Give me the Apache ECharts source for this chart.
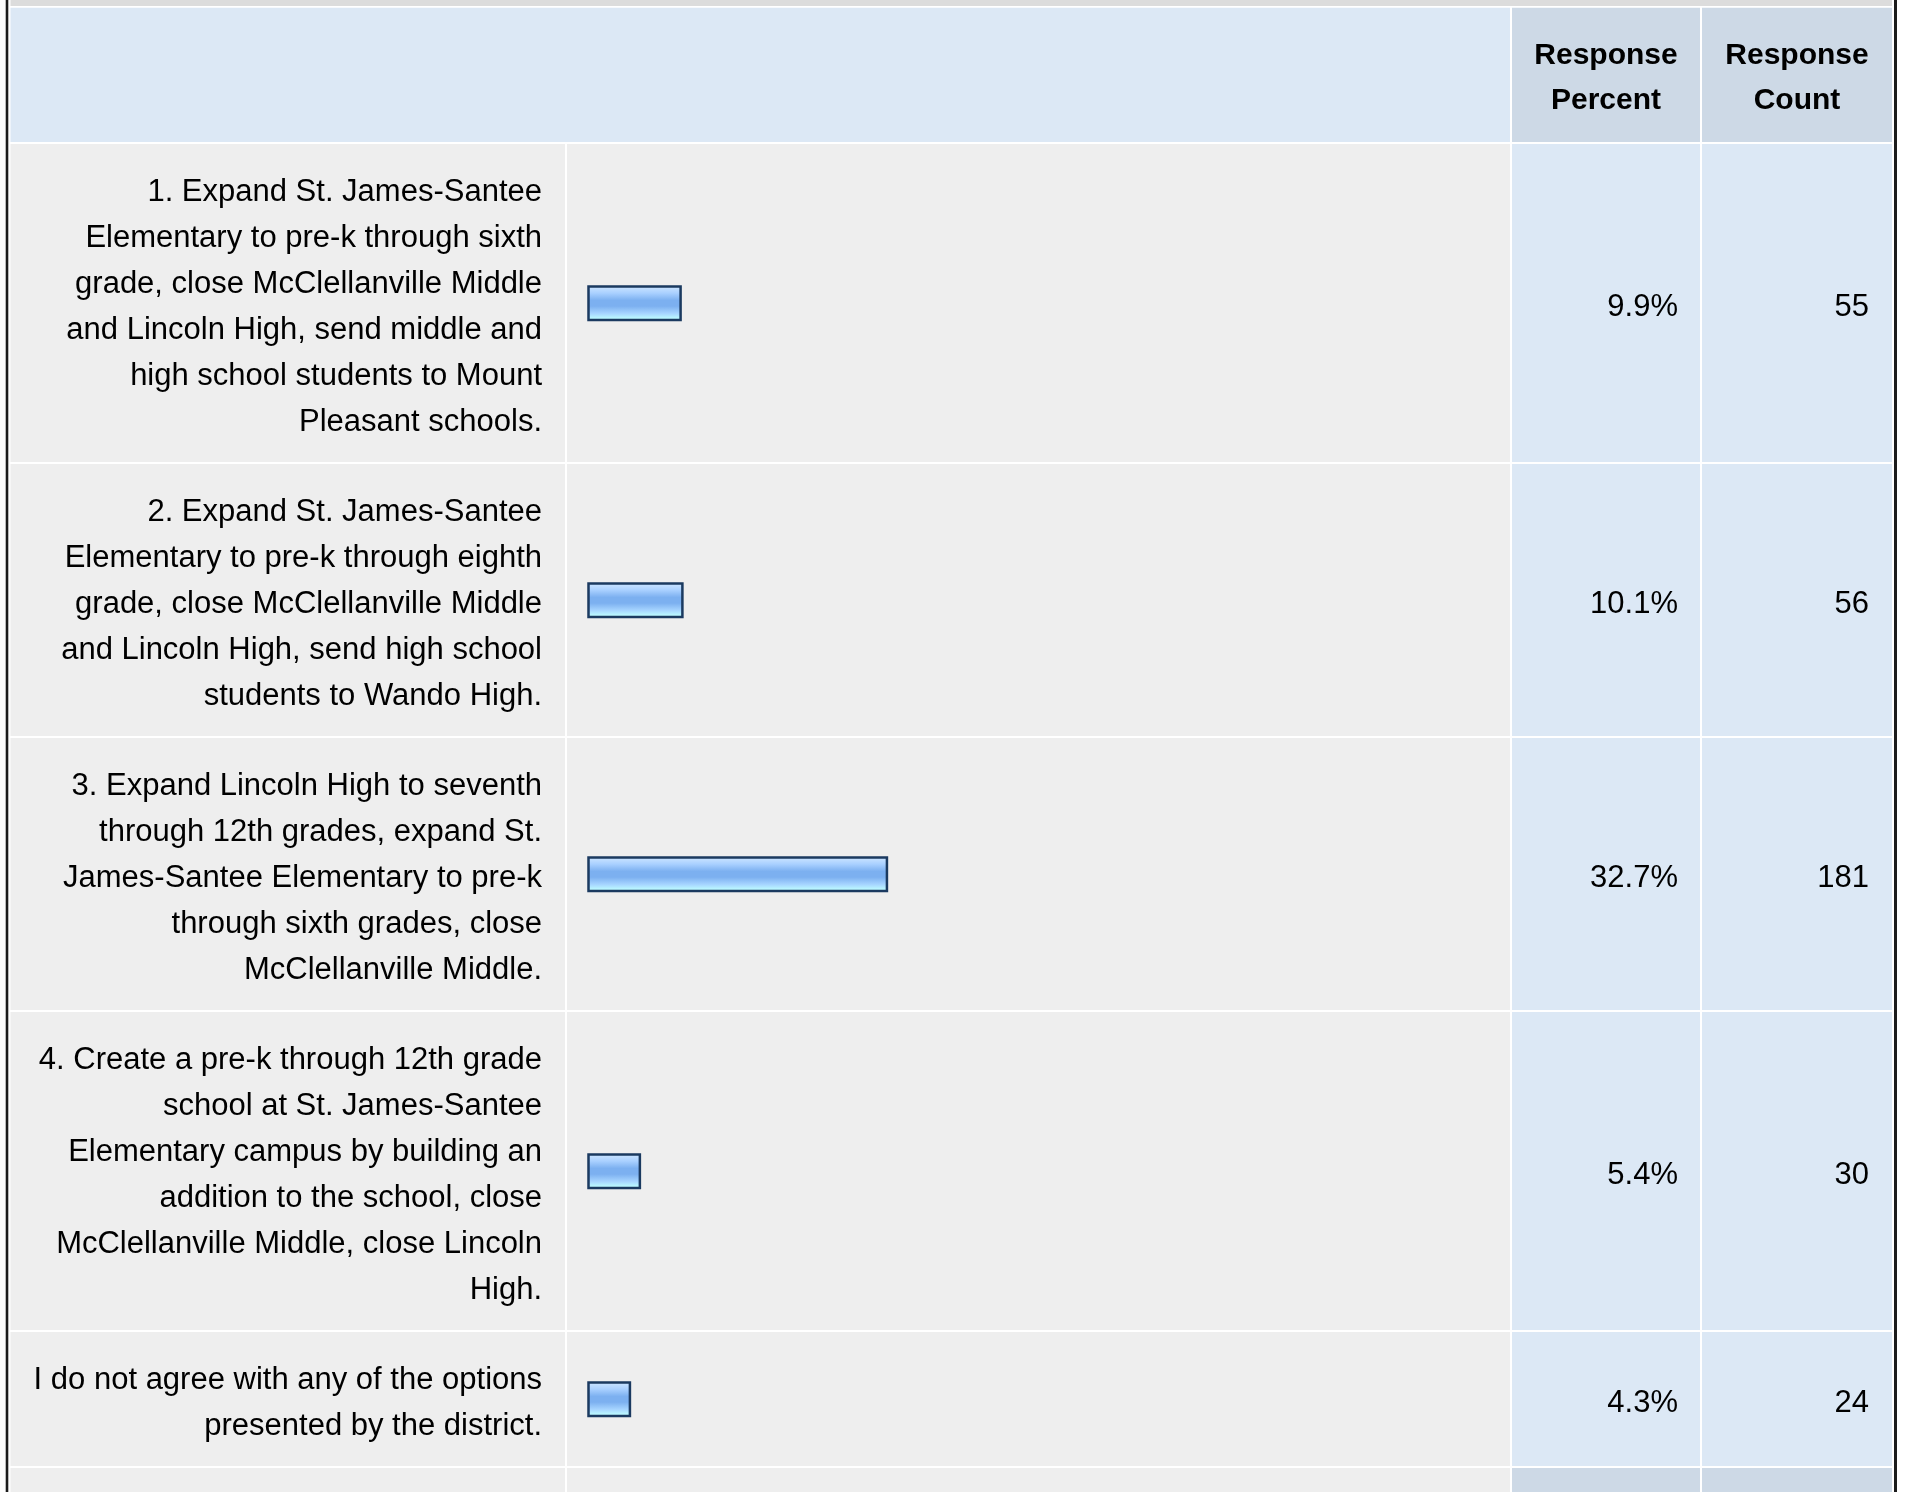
<!DOCTYPE html>
<html>
<head>
<meta charset="utf-8">
<title>Survey responses</title>
<script src="https://cdn.jsdelivr.net/npm/echarts@6/dist/echarts.min.js"></script>
<style>
  html, body { margin: 0; padding: 0; background: #fff; }
  #main { width: 1907px; height: 1492px; }
</style>
</head>
<body>
<div id="main"></div>
<script>
// options (row labels, one text line per entry)
const labels = [
  ['1. Expand St. James-Santee', 'Elementary to pre-k through sixth', 'grade, close McClellanville Middle', 'and Lincoln High, send middle and', 'high school students to Mount', 'Pleasant schools.'],
  ['2. Expand St. James-Santee', 'Elementary to pre-k through eighth', 'grade, close McClellanville Middle', 'and Lincoln High, send high school', 'students to Wando High.'],
  ['3. Expand Lincoln High to seventh', 'through 12th grades, expand St.', 'James-Santee Elementary to pre-k', 'through sixth grades, close', 'McClellanville Middle.'],
  ['4. Create a pre-k through 12th grade', 'school at St. James-Santee', 'Elementary campus by building an', 'addition to the school, close', 'McClellanville Middle, close Lincoln', 'High.'],
  ['I do not agree with any of the options', 'presented by the district.']
]
// response percent and count
const percents = [9.9, 10.1, 32.7, 5.4, 4.3]
const counts = [55, 56, 181, 30, 24]
const headers = ['Response\nPercent', 'Response\nCount']

// table layout
const FONT = 'Liberation Sans'
const LINE_H = 46
const ROW_PAD = 42
const GAP = 2
const HEADER_TOP = 7.7
const HEADER_BOTTOM = 142
const COL_L = 10.5 // label cell left
const COL_B = 567 // bar cell left
const COL_P = 1512 // percent cell left
const COL_C = 1702 // count cell left
const COL_R = 1892 // table right
const GRAY = '#eeeeee'
const BLUE = '#dce8f5'
const BLUE_DARK = '#cdd9e6'

// row tops / bottoms follow the number of text lines
const rows = []
let cursor = HEADER_BOTTOM + GAP
labels.forEach((lines, i) => {
  const h = lines.length * LINE_H + ROW_PAD
  rows.push([percents[i], cursor, cursor + h, counts[i], i])
  cursor += h + GAP
})
const lastTop = cursor

const barFill = new echarts.graphic.LinearGradient(0, 0, 0, 1, [
  { offset: 0, color: '#d2e8ff' },
  { offset: 0.22, color: '#a9d0ff' },
  { offset: 0.42, color: '#7cb0f0' },
  { offset: 0.58, color: '#7cb0f0' },
  { offset: 0.78, color: '#a6d4ff' },
  { offset: 0.9, color: '#b8f4ff' },
  { offset: 1, color: '#c4ffff' }
])

const headerText = {
  fill: '#000', fontFamily: FONT, fontSize: 30, fontWeight: 'bold',
  lineHeight: 45, align: 'center', verticalAlign: 'middle'
}

const myChart = echarts.init(document.getElementById('main'), null, { renderer: 'canvas' })

const option = {
  animation: false,
  backgroundColor: '#ffffff',
  grid: { left: 588.5, width: 905, top: 0, height: 1492 },
  xAxis: { type: 'value', min: 0, max: 100, show: false },
  yAxis: { type: 'value', min: 0, max: 1492, inverse: true, show: false },
  graphic: [
    // frame
    { type: 'rect', shape: { x: 5.7, y: 0, width: 2.6, height: 1492 }, style: { fill: '#1c1c1c' } },
    { type: 'rect', shape: { x: 1894, y: 0, width: 3, height: 1492 }, style: { fill: '#1c1c1c' } },
    { type: 'rect', shape: { x: COL_L, y: 0, width: COL_R - COL_L, height: 6 }, style: { fill: '#dcdcdc' } },
    // header
    { type: 'rect', shape: { x: COL_L, y: HEADER_TOP, width: COL_P - GAP - COL_L, height: HEADER_BOTTOM - HEADER_TOP }, style: { fill: BLUE } },
    { type: 'rect', shape: { x: COL_P, y: HEADER_TOP, width: COL_C - GAP - COL_P, height: HEADER_BOTTOM - HEADER_TOP }, style: { fill: BLUE_DARK } },
    { type: 'rect', shape: { x: COL_C, y: HEADER_TOP, width: COL_R - COL_C, height: HEADER_BOTTOM - HEADER_TOP }, style: { fill: BLUE_DARK } },
    {
      type: 'text', x: (COL_P + COL_C - GAP) / 2, y: (HEADER_TOP + HEADER_BOTTOM) / 2 + 3.5,
      style: Object.assign({ text: headers[0] }, headerText)
    },
    {
      type: 'text', x: (COL_C + COL_R) / 2, y: (HEADER_TOP + HEADER_BOTTOM) / 2 + 3.5,
      style: Object.assign({ text: headers[1] }, headerText)
    },
    // start of the next row, cut off at the bottom
    { type: 'rect', shape: { x: COL_L, y: lastTop, width: COL_B - GAP - COL_L, height: 40 }, style: { fill: GRAY } },
    { type: 'rect', shape: { x: COL_B, y: lastTop, width: COL_P - GAP - COL_B, height: 40 }, style: { fill: GRAY } },
    { type: 'rect', shape: { x: COL_P, y: lastTop, width: COL_C - GAP - COL_P, height: 40 }, style: { fill: BLUE_DARK } },
    { type: 'rect', shape: { x: COL_C, y: lastTop, width: COL_R - COL_C, height: 40 }, style: { fill: BLUE_DARK } }
  ],
  series: [
    {
      type: 'custom',
      clip: false,
      encode: { x: 0, y: [1, 2] },
      data: rows,
      renderItem: function (params, api) {
        const pct = api.value(0)
        const top = api.coord([0, api.value(1)])[1]
        const bottom = api.coord([0, api.value(2)])[1]
        const mid = (top + bottom) / 2
        const idx = api.value(4)
        const x0 = api.coord([0, 0])[0]
        const x1 = api.coord([pct, 0])[0]
        const h = bottom - top
        const textStyle = { fill: '#000', fontFamily: FONT, fontSize: 31, verticalAlign: 'middle', align: 'right' }
        return {
          type: 'group',
          children: [
            { type: 'rect', shape: { x: COL_L, y: top, width: COL_B - GAP - COL_L, height: h }, style: { fill: GRAY } },
            { type: 'rect', shape: { x: COL_B, y: top, width: COL_P - GAP - COL_B, height: h }, style: { fill: GRAY } },
            { type: 'rect', shape: { x: COL_P, y: top, width: COL_C - GAP - COL_P, height: h }, style: { fill: BLUE } },
            { type: 'rect', shape: { x: COL_C, y: top, width: COL_R - COL_C, height: h }, style: { fill: BLUE } },
            {
              type: 'text', x: COL_B - GAP - 23, y: mid + 4.5,
              style: Object.assign({ text: labels[idx].join('\n'), lineHeight: LINE_H }, textStyle)
            },
            {
              type: 'rect',
              shape: { x: x0, y: mid - 16.5, width: x1 - x0 + 2.5, height: 33.5 },
              style: { fill: barFill, stroke: '#1b3a60', lineWidth: 2.5 }
            },
            {
              type: 'text', x: COL_C - GAP - 22, y: mid + 4.5,
              style: Object.assign({ text: pct.toFixed(1) + '%' }, textStyle)
            },
            {
              type: 'text', x: COL_R - 23, y: mid + 4.5,
              style: Object.assign({ text: String(api.value(3)) }, textStyle)
            }
          ]
        }
      }
    }
  ]
}

myChart.setOption(option)

window.onresize = function () {
  myChart.resize()
}
</script>
</body>
</html>
